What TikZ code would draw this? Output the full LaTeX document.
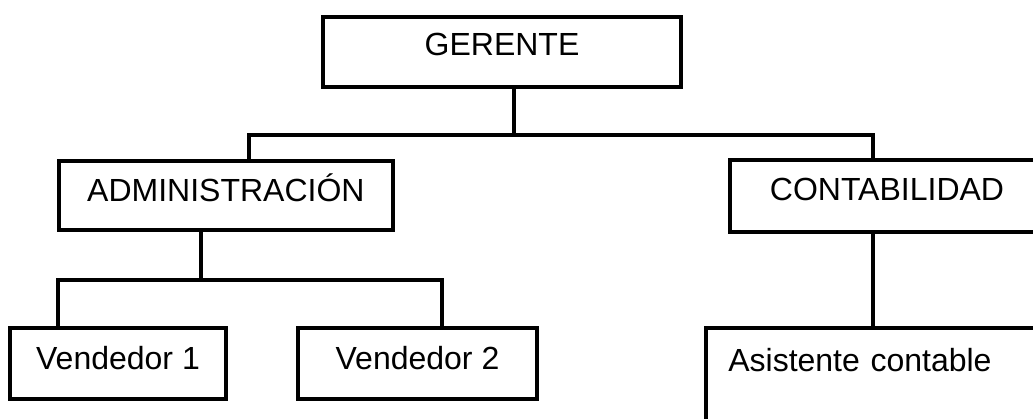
\documentclass[tikz,border=0pt]{standalone}
\usepackage{fontspec}
\setmainfont{Liberation Sans}
\begin{document}
\begin{tikzpicture}[x=1pt,y=-1pt,
  orgbox/.style={draw=black, line width=4pt, rectangle, inner sep=0pt, outer sep=0pt,
    font=\fontsize{32}{38}\selectfont, line join=miter},
  conn/.style={draw=black, line width=4pt, line join=miter}]
\useasboundingbox (0,0) rectangle (1033,418);
\clip (0,0) rectangle (1033,418);
% boxes
\node[orgbox, anchor=base, minimum width=358.5pt, text height=38.25pt, text depth=32.25pt] (g) at (502,55) {GERENTE};
\node[orgbox, anchor=base, minimum width=334.8pt, text height=40.5pt, text depth=29.3pt] (adm) at (225.9,201) {ADMINISTRACIÓN};
\node[orgbox, anchor=base, minimum width=314pt, text height=40.7pt, text depth=31pt] (con) at (887,200.7) {CONTABILIDAD};
\node[orgbox, anchor=base, minimum width=216pt, text height=41.6pt, text depth=29.7pt] (v1) at (118,369.3) {Vendedor 1};
\node[orgbox, anchor=base, minimum width=239.6pt, text height=41.6pt, text depth=29.7pt] (v2) at (417.5,369.3) {Vendedor 2};
\node[orgbox, anchor=north west, inner xsep=22.6pt, text width=370pt, align=left, text height=43.4pt, text depth=80pt] (asi) at (705.7,328.3) {Asistente contable};
% junction coordinates
\coordinate (gx) at (513.7,134.7);
\coordinate (busL) at (249,134.7);
\coordinate (busR) at (872.7,134.7);
\coordinate (ax) at (201.3,279.7);
\coordinate (v1x) at (57.7,279.7);
\coordinate (v2x) at (441.7,279.7);
% connectors
\draw[conn] (g.south -| gx) -- (gx);
\draw[conn] (adm.north -| busL) |- (busR) -- (con.north -| busR);
\draw[conn] (adm.south -| ax) -- (ax);
\draw[conn] (v1.north -| v1x) |- (v2x) -- (v2.north -| v2x);
\draw[conn] (con.south -| busR) -- (asi.north -| busR);
\end{tikzpicture}
\end{document}
